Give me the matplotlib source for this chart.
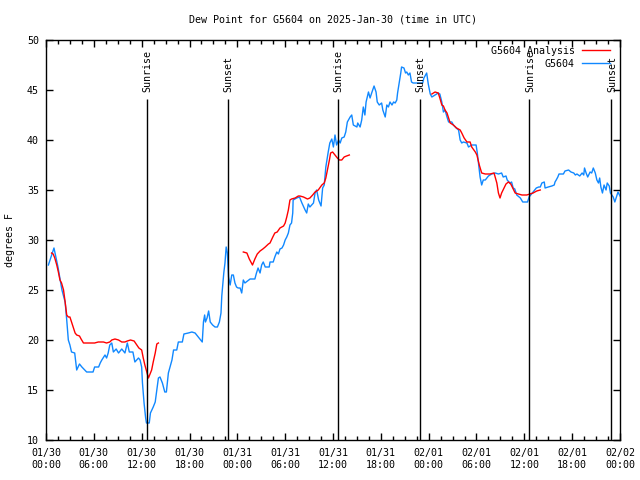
import numpy as np
import matplotlib
matplotlib.use("Agg")
from matplotlib import pyplot as plt

# hours since 2025-01-30 00:00 UTC
blue_hours = [0.3, 1.0, 1.5, 2.0, 2.4, 2.6, 2.8, 3.0, 3.2, 3.6, 3.85, 4.2, 4.5, 5.1, 5.9, 6.1, 6.6, 6.8,
              7.0, 7.4, 7.6, 7.8, 8.0, 8.25, 8.45, 8.8, 9.1, 9.5, 9.9, 10.2, 10.45, 10.9, 11.15, 11.6,
              11.8, 12.0, 12.1, 12.3, 12.5, 12.6, 12.95, 13.1, 13.45, 13.7, 13.9, 14.1, 14.3, 14.6, 14.9,
              15.1, 15.35, 15.8, 16.0, 16.4, 16.6, 17.1, 17.3, 17.85, 18.3, 18.7, 19.1, 19.6, 19.75, 19.9,
              20.0, 20.2, 20.4, 20.6, 20.9, 21.2, 21.5, 21.75, 21.95, 22.05, 22.3, 22.45, 22.6, 22.75,
              22.9, 23.1, 23.3, 23.5, 23.7, 23.9, 24.1, 24.35, 24.55, 24.75, 24.95, 25.6, 26.2, 26.4, 26.6,
              26.85, 27.05, 27.25, 27.5, 28.0, 28.1, 28.5, 28.7, 28.95, 29.15, 29.35, 29.6, 29.8, 30.0,
              30.2, 30.4, 30.6, 30.8, 30.95, 31.0, 31.45, 31.8, 32.1, 32.5, 32.7, 32.9, 33.1, 33.55, 33.75,
              33.95, 34.2, 34.5, 34.7, 34.9, 35.1, 35.4, 35.6, 35.85, 36.05, 36.25, 36.45, 36.7, 36.9,
              37.1, 37.4, 37.6, 37.8, 38.15, 38.35, 38.55, 39.0, 39.1, 39.4, 39.6, 39.8, 40.0, 40.15,
              40.45, 40.65, 40.85, 41.15, 41.4, 41.55, 41.8, 42.1, 42.25, 42.55, 42.75, 42.95, 43.15, 43.4,
              43.6, 43.8, 44.0, 44.1, 44.3, 44.5, 44.6, 44.9, 45.1, 45.25, 45.45, 45.65, 45.85, 46.05,
              46.7, 47.25, 47.4, 47.75, 47.95, 48.2, 48.4, 48.8, 49.2, 49.4, 49.65, 49.85, 50.05, 50.3,
              50.5, 50.9, 51.1, 51.45, 51.75, 51.95, 52.15, 52.35, 52.8, 53.0, 53.4, 53.95, 54.1, 54.3,
              54.45, 54.65, 54.85, 55.1, 55.3, 55.5, 55.9, 56.35, 56.75, 57.15, 57.35, 57.7, 57.85, 58.2,
              58.4, 58.6, 58.8, 59.05, 59.5, 59.8, 60.1, 60.4, 60.6, 60.9, 61.1, 61.5, 61.8, 62.0, 62.2,
              62.5, 62.6, 63.0, 63.45, 63.75, 63.85, 64.0, 64.2, 64.35, 64.9, 65.1, 65.55, 65.85, 66.2,
              66.4, 66.6, 66.95, 67.25, 67.45, 67.55, 67.75, 67.95, 68.25, 68.45, 68.65, 68.9, 69.1, 69.3,
              69.45, 69.6, 69.8, 70.0, 70.25, 70.4, 70.65, 70.8, 71.15, 71.35, 71.55, 71.75, 72.0]
blue_dewpt = [27.5, 29.2, 27.3, 25.0, 23.8, 22.0, 20.0, 19.5, 18.8, 18.7, 17.0, 17.6, 17.3, 16.8, 16.8, 17.3,
              17.3, 17.7, 18.0, 18.5, 18.2, 18.7, 19.5, 19.7, 18.8, 19.1, 18.7, 19.1, 18.7, 19.7, 18.8,
              18.8, 17.8, 18.2, 18.0, 17.3, 15.7, 13.7, 12.2, 11.7, 11.7, 12.7, 13.3, 13.8, 15.0, 16.2,
              16.3, 15.7, 14.8, 14.8, 16.7, 18.0, 19.0, 19.0, 19.8, 19.8, 20.6, 20.7, 20.8, 20.7, 20.3,
              19.8, 21.8, 22.5, 21.8, 22.2, 22.9, 21.8, 21.5, 21.3, 21.3, 21.8, 22.7, 24.4, 26.7, 27.7,
              29.3, 28.7, 26.3, 25.5, 26.5, 26.5, 25.7, 25.3, 25.2, 25.2, 24.7, 26.0, 25.7, 26.1, 26.1,
              26.7, 27.2, 26.7, 27.5, 27.8, 27.3, 27.3, 27.8, 27.8, 28.3, 28.8, 28.6, 29.1, 29.2, 29.5,
              30.0, 30.3, 30.7, 31.5, 31.7, 32.7, 34.0, 34.2, 34.3, 33.7, 33.0, 32.7, 33.6, 33.3, 33.7,
              34.7, 35.0, 34.0, 33.4, 35.2, 35.5, 37.3, 38.8, 39.7, 40.1, 39.3, 40.5, 39.5, 40.0, 39.7,
              40.2, 40.3, 40.8, 41.8, 42.3, 42.5, 41.5, 41.3, 41.7, 41.3, 42.0, 43.3, 42.5, 43.8, 44.8,
              44.2, 44.7, 45.4, 44.8, 43.8, 43.5, 43.7, 43.0, 42.3, 43.5, 43.3, 43.8, 43.5, 43.8, 43.7,
              44.0, 44.7, 45.7, 46.7, 47.3, 47.2, 46.7, 46.8, 46.5, 46.7, 45.8, 45.7, 45.7, 45.7, 46.2,
              46.7, 45.6, 44.6, 44.3, 44.5, 44.7, 44.6, 43.8, 42.8, 43.0, 42.3, 41.8, 41.8, 41.5, 41.2,
              41.0, 40.0, 39.7, 39.8, 39.7, 39.3, 39.5, 39.5, 38.7, 37.3, 36.3, 35.5, 36.0, 36.0, 36.2,
              36.4, 36.6, 36.7, 36.6, 36.7, 36.3, 36.4, 36.0, 35.7, 35.8, 35.2, 35.1, 34.5, 34.2, 33.8,
              33.8, 33.8, 34.3, 34.6, 34.8, 35.2, 35.3, 35.3, 35.7, 35.8, 35.2, 35.3, 35.4, 35.5, 35.8,
              36.0, 36.3, 36.6, 36.6, 36.9, 37.0, 36.8, 36.7, 36.5, 36.6, 36.4, 36.7, 36.5, 37.2, 36.7,
              36.3, 36.8, 36.7, 37.2, 36.7, 36.0, 35.7, 36.2, 35.3, 34.7, 35.5, 35.0, 35.7, 35.4, 34.7,
              34.3, 33.8, 34.3, 34.8, 34.4]

# analysis, three separate runs (nan = gap)
red_hours = [0.7, 0.9, 1.1, 1.35, 1.55, 1.75, 1.95, 2.2, 2.4, 2.6, 2.8, 3.0, 3.2, 3.4, 3.65, 3.85, 4.2, 4.4,
             4.7, 5.3, 6.1, 6.55, 7.2, 7.6, 8.0, 8.25, 8.65, 9.1, 9.5, 9.9, 10.2, 10.6, 11.05, 11.4, 11.65,
             12.0, 12.2, 12.4, 12.65, 12.85, 13.05, 13.25, 13.45, 13.7, 13.9, 14.1,
             np.nan,
             24.75, 25.2, 25.5, 25.9, 26.2, 26.5, 26.85, 27.2, 27.5, 27.9, 28.1, 28.45, 28.7, 29.0, 29.35,
             29.8, 30.0, 30.2, 30.4, 30.6, 30.8, 31.25, 31.65, 31.85, 32.3, 32.8, 33.1, 33.45, 33.75, 34.15,
             34.6, 34.9, 35.1, 35.3, 35.55, 35.7, 35.95, 36.25, 36.55, 36.8, 37.1, 37.4, 37.7, 38.05,
             np.nan,
             48.4, 48.8, 49.2, 49.4, 49.65, 49.85, 50.05, 50.3, 50.5, 50.7, 51.1, 51.5, 51.95, 52.15, 52.45,
             52.8, 53.2, 53.4, 53.85, 54.05, 54.35, 54.65, 55.1, 55.7, 56.2, 56.55, 56.75, 56.95, 57.15,
             57.45, 57.7, 58.0, 58.3, 58.55, 58.85, 59.25, 59.7, 60.3, 60.7, 61.1, 61.55, 62.0]
red_dewpt = [28.7, 28.6, 28.2, 27.5, 26.8, 26.0, 25.7, 25.0, 23.8, 22.5, 22.3, 22.3, 21.8, 21.3, 20.7, 20.5,
             20.4, 20.1, 19.7, 19.7, 19.7, 19.8, 19.8, 19.7, 19.8, 20.0, 20.1, 20.0, 19.8, 19.8, 19.9, 20.0,
             19.9, 19.5, 19.2, 19.0, 18.2, 17.5, 16.8, 16.2, 16.6, 17.0, 17.8, 18.7, 19.6, 19.7,
             np.nan,
             28.8, 28.7, 28.1, 27.5, 28.1, 28.6, 28.9, 29.1, 29.3, 29.6, 29.7, 30.3, 30.7, 30.8, 31.2, 31.4,
             31.7, 32.3, 33.0, 34.0, 34.1, 34.2, 34.4, 34.4, 34.3, 34.1, 34.2, 34.5, 34.8, 35.0, 35.5, 35.7,
             36.2, 37.0, 38.0, 38.7, 38.8, 38.5, 38.2, 38.0, 38.0, 38.3, 38.4, 38.5,
             np.nan,
             44.6, 44.8, 44.7, 44.2, 43.5, 43.4, 43.0, 42.7, 42.2, 41.7, 41.5, 41.2, 41.0, 40.7, 40.2, 39.8,
             39.8, 39.3, 38.8, 38.5, 37.5, 36.7, 36.6, 36.6, 36.7, 35.7, 34.7, 34.2, 34.7, 35.2, 35.6, 35.8,
             35.6, 35.2, 34.7, 34.6, 34.5, 34.5, 34.6, 34.7, 34.9, 35.0]

event_hours = [12.67, 22.8, 36.6, 46.9, 60.6, 70.9]
event_names = ["Sunrise", "Sunset", "Sunrise", "Sunset", "Sunrise", "Sunset"]

tick_hours = list(range(0, 73, 6))
tick_labels = ["01/30\n00:00", "01/30\n06:00", "01/30\n12:00", "01/30\n18:00",
               "01/31\n00:00", "01/31\n06:00", "01/31\n12:00", "01/31\n18:00",
               "02/01\n00:00", "02/01\n06:00", "02/01\n12:00", "02/01\n18:00",
               "02/02\n00:00"]

RED = "#ff0000"
BLUE = "#1088ff"

plt.rcParams["font.family"] = ["DejaVu Sans Mono"]
plt.rcParams["font.size"] = 7.2

fig = plt.figure(figsize=(6.4, 4.8), dpi=100)
ax = fig.add_axes([46 / 640, 40 / 480, 574 / 640, 400 / 480])

blue_line, = ax.plot(blue_hours, blue_dewpt, color=BLUE, lw=1.0, zorder=3)
red_line, = ax.plot(red_hours, red_dewpt, color=RED, lw=1.0, zorder=4)

ax.vlines(event_hours, 10, 44.1, color="black", lw=1.0, zorder=5)
for h, name in zip(event_hours, event_names):
    ax.text(h + 0.1, 44.8, name, rotation=90, ha="center", va="bottom", zorder=6)

ax.set_xlim(0, 72)
ax.set_ylim(10, 50)
ax.set_xticks(tick_hours)
ax.set_xticklabels(tick_labels)
ax.set_xticks(np.arange(0, 72.1, 1.5), minor=True)
ax.set_yticks(range(10, 51, 5))
ax.tick_params(which="both", direction="in", top=True, right=True, width=1, color="black")
ax.tick_params(which="major", length=5)
ax.tick_params(which="minor", length=3)
ax.tick_params(axis="x", pad=6)
ax.tick_params(axis="y", pad=5)
for s in ax.spines.values():
    s.set_linewidth(1.0)

fig.text(333 / 640, 1 - 20 / 480, "Dew Point for G5604 on 2025-Jan-30 (time in UTC)",
         ha="center", va="center")
fig.text(10 / 640, 0.5, "degrees F", rotation=90, ha="center", va="center")

leg = ax.legend([red_line, blue_line], ["G5604 Analysis", "G5604"], loc="upper right",
                bbox_to_anchor=(0.9895, 0.995), markerfirst=False, frameon=False,
                handlelength=2.8, handletextpad=0.7, borderaxespad=0.0, labelspacing=0.3)
leg.set_zorder(7)

fig.savefig("out.png", dpi=100)
